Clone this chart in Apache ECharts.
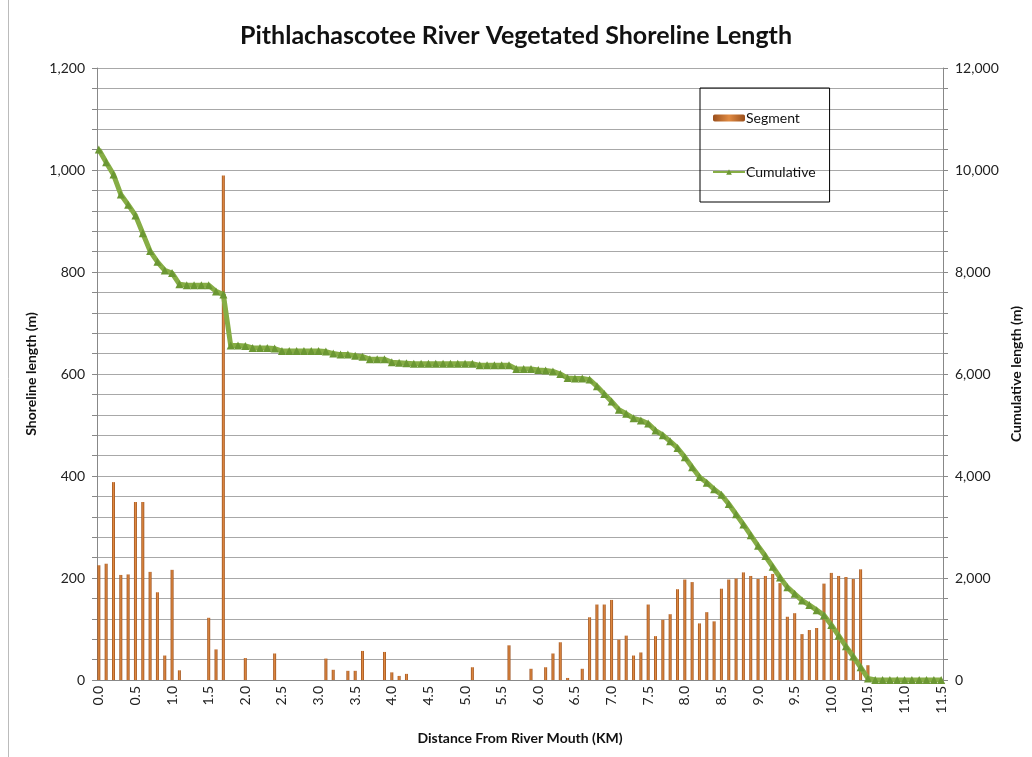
<!DOCTYPE html>
<html>
<head>
<meta charset="utf-8">
<script src="https://cdn.jsdelivr.net/npm/echarts@6/dist/echarts.min.js"></script>
<style>
  html, body { margin: 0; padding: 0; background: #fff; }
  #chart { width: 1032px; height: 757px; }
</style>
</head>
<body>
<div id="chart"></div>
<script>
  // distance from river mouth, every 0.1 km (0.0 .. 11.5)
  const distanceKm = [
    0.0, 0.1, 0.2, 0.3, 0.4, 0.5, 0.6, 0.7, 0.8, 0.9,
    1.0, 1.1, 1.2, 1.3, 1.4, 1.5, 1.6, 1.7, 1.8, 1.9,
    2.0, 2.1, 2.2, 2.3, 2.4, 2.5, 2.6, 2.7, 2.8, 2.9,
    3.0, 3.1, 3.2, 3.3, 3.4, 3.5, 3.6, 3.7, 3.8, 3.9,
    4.0, 4.1, 4.2, 4.3, 4.4, 4.5, 4.6, 4.7, 4.8, 4.9,
    5.0, 5.1, 5.2, 5.3, 5.4, 5.5, 5.6, 5.7, 5.8, 5.9,
    6.0, 6.1, 6.2, 6.3, 6.4, 6.5, 6.6, 6.7, 6.8, 6.9,
    7.0, 7.1, 7.2, 7.3, 7.4, 7.5, 7.6, 7.7, 7.8, 7.9,
    8.0, 8.1, 8.2, 8.3, 8.4, 8.5, 8.6, 8.7, 8.8, 8.9,
    9.0, 9.1, 9.2, 9.3, 9.4, 9.5, 9.6, 9.7, 9.8, 9.9,
    10.0, 10.1, 10.2, 10.3, 10.4, 10.5, 10.6, 10.7, 10.8, 10.9,
    11.0, 11.1, 11.2, 11.3, 11.4, 11.5
  ]

  // segment shoreline length (m)
  const segment = [
    225, 228, 388, 206, 207, 349, 349, 212, 172, 48,
    216, 19, 0, 0, 0, 122, 60, 989, 0, 0,
    43, 0, 0, 0, 52, 0, 0, 0, 0, 0,
    0, 42, 20, 0, 18, 18, 57, 0, 0, 55,
    15, 8, 12, 0, 0, 0, 0, 0, 0, 0,
    0, 25, 0, 0, 0, 0, 68, 0, 0, 22,
    0, 25, 52, 74, 4, 0, 22, 123, 148, 148,
    157, 79, 87, 48, 54, 148, 86, 118, 129, 178,
    197, 192, 111, 133, 115, 179, 197, 199, 211, 204,
    198, 204, 208, 190, 124, 131, 90, 98, 102, 189,
    210, 204, 202, 198, 217, 29, 0, 0, 0, 0,
    0, 0, 0, 0, 0, 0
  ]

  // cumulative length (m)
  const cumulative = [
    10400, 10150, 9910, 9520, 9320, 9110, 8760, 8410, 8200, 8030,
    7980, 7760, 7740, 7740, 7740, 7740, 7620, 7560, 6560, 6560,
    6550, 6510, 6510, 6510, 6500, 6450, 6450, 6450, 6450, 6450,
    6450, 6440, 6400, 6380, 6380, 6360, 6340, 6290, 6290, 6290,
    6230, 6220, 6210, 6200, 6200, 6200, 6200, 6200, 6200, 6200,
    6200, 6200, 6170, 6170, 6170, 6170, 6170, 6100, 6100, 6100,
    6080, 6070, 6050, 6000, 5920, 5910, 5910, 5890, 5760, 5610,
    5460, 5300, 5220, 5130, 5090, 5030, 4890, 4800, 4680, 4550,
    4370, 4170, 3980, 3870, 3740, 3630, 3450, 3250, 3050, 2840,
    2630, 2430, 2220, 2010, 1820, 1690, 1560, 1470, 1370, 1270,
    1080, 870, 660, 460, 250, 30, 0, 0, 0, 0,
    0, 0, 0, 0, 0, 0
  ]

  // the axis runs in 0.05 km steps, data sits on every second step
  const categories = []
  const segData = []
  const cumData = []
  distanceKm.forEach((km, i) => {
    categories.push(km.toFixed(1))
    segData.push(segment[i])
    cumData.push(cumulative[i])
    if (i < distanceKm.length - 1) {
      categories.push((km + 0.05).toFixed(2))
      segData.push(null)
      cumData.push(null)
    }
  })

  const fmt = v => String(v).replace(/\B(?=(\d{3})+(?!\d))/g, ',')
  const font = 'Lato, "Open Sans", sans-serif'
  const nameStyle = { fontFamily: font, fontSize: 14, fontWeight: 'bold', color: '#111' }

  const chart = echarts.init(document.getElementById('chart'))
  chart.setOption({
    animation: false,
    textStyle: { fontFamily: font },
    title: {
      text: 'Pithlachascotee River Vegetated Shoreline Length',
      left: 'center',
      top: 18,
      textStyle: { fontFamily: font, fontSize: 25, fontWeight: 'bold', color: '#111' }
    },
    graphic: [{
      type: 'line',
      shape: { x1: 8.5, y1: 0, x2: 8.5, y2: 757 },
      style: { stroke: '#bbb', lineWidth: 1 }
    }],
    legend: {
      orient: 'vertical',
      left: 700,
      top: 88,
      padding: [23, 14, 23, 12],
      itemGap: 40,
      itemWidth: 32,
      itemHeight: 7,
      borderColor: '#000',
      borderWidth: 1,
      textStyle: { fontFamily: font, fontSize: 14, color: '#111', padding: [0, 0, 0, -4] },
      data: ['Segment', 'Cumulative']
    },
    grid: { left: 97, right: 89, top: 68, bottom: 77 },
    xAxis: {
      type: 'category',
      data: categories,
      boundaryGap: true,
      name: 'Distance From River Mouth (KM)',
      nameLocation: 'middle',
      nameGap: 51,
      nameTextStyle: nameStyle,
      axisLine: { lineStyle: { color: '#888' } },
      axisTick: { interval: 0, length: 4, lineStyle: { color: '#888' } },
      axisLabel: {
        interval: 9,
        rotate: 90,
        margin: 6,
        fontSize: 14,
        color: '#222',
        formatter: v => Number(v).toFixed(1)
      }
    },
    yAxis: [{
      type: 'value',
      min: 0,
      max: 1200,
      interval: 40,
      name: 'Shoreline length (m)',
      nameLocation: 'middle',
      nameGap: 56,
      nameTextStyle: nameStyle,
      axisLine: { show: true, lineStyle: { color: '#888' } },
      axisTick: { show: true, length: 5, lineStyle: { color: '#888' } },
      axisLabel: {
        fontSize: 14,
        color: '#222',
        margin: 12,
        formatter: v => (v % 200 === 0 ? fmt(v) : '')
      },
      splitLine: { lineStyle: { color: '#a8a8a8' } }
    }, {
      type: 'value',
      min: 0,
      max: 12000,
      interval: 400,
      name: 'Cumulative length (m)',
      nameLocation: 'middle',
      nameGap: 66,
      nameTextStyle: nameStyle,
      axisLine: { show: true, lineStyle: { color: '#888' } },
      axisTick: { show: true, length: 5, lineStyle: { color: '#888' } },
      axisLabel: {
        fontSize: 14,
        color: '#222',
        margin: 12,
        formatter: v => (v % 2000 === 0 ? fmt(v) : '')
      },
      splitLine: { show: false }
    }],
    series: [{
      name: 'Segment',
      type: 'bar',
      data: segData,
      barWidth: 3,
      barGap: '-100%',
      itemStyle: {
        color: new echarts.graphic.LinearGradient(0, 0, 1, 0, [
          { offset: 0, color: '#9a4f1c' },
          { offset: 0.5, color: '#e08a42' },
          { offset: 1, color: '#9a4f1c' }
        ])
      }
    }, {
      name: 'Cumulative',
      type: 'line',
      yAxisIndex: 1,
      data: cumData,
      connectNulls: true,
      showAllSymbol: true,
      symbol: 'triangle',
      symbolSize: 8,
      lineStyle: { color: '#86ad45', width: 5 },
      itemStyle: { color: '#6b9733' },
      z: 5
    }]
  })
</script>
</body>
</html>
